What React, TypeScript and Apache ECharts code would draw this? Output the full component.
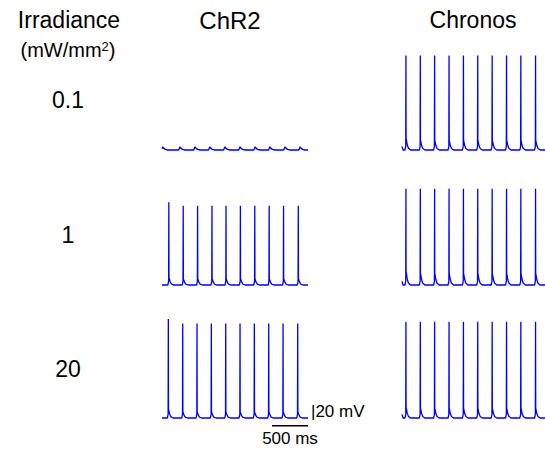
import React, { useEffect, useRef } from "react";
import * as echarts from "echarts";

// ---- labels ----
const irradianceLabels = ["0.1", "1", "20"];
const opsinNames = ["ChR2", "Chronos"];
const headerLine1 = "Irradiance";
const headerLine2 = "(mW/mm{s|2})";
const voltageBarLabel = "|20 mV";
const timeBarLabel = "500 ms";

// ---- time / voltage ranges ----
const traceEndMs = 2030;
const restMv = -65;
const yMinMv = -75;
const yMaxMv = 45;
const timeBarMs = [1530, 2030];
const timeBarMv = -73.6;

// ---- ChR2, 0.1 mW/mm2: subthreshold bumps (ms) and height (mV) ----
const chr2Bumps01 = [10, 250, 460, 665, 875, 1085, 1295, 1500, 1710, 1920];
const chr2BumpMv01 = 3.5;

// ---- spike times (ms) and peak voltages (mV) ----
const chr2Spikes1 = [95, 295, 495, 695, 890, 1090, 1290, 1490, 1690, 1895];
const chr2Peaks1 = [27, 23, 23, 23, 23, 23, 23, 23, 23, 23];
const chr2Adp1 = [8, 7, 7, 7, 7, 7, 7, 7, 7, 7];

const chr2Spikes20 = [88, 288, 487, 686, 886, 1085, 1284, 1484, 1683, 1887];
const chr2Peaks20 = [45, 40, 40, 40, 40, 40, 40, 40, 40, 40];
const chr2Adp20 = [10, 7, 7, 7, 7, 7, 7, 7, 7, 7];

const chronosSpikes01 = [56, 260, 463, 668, 872, 1075, 1280, 1484, 1687, 1896];
const chronosPeaks01 = [40, 40, 40, 40, 40, 40, 40, 40, 40, 40];
const chronosAdp01 = [13, 11, 11, 11, 11, 11, 11, 11, 11, 11];

const chronosSpikes1 = [56, 260, 463, 668, 872, 1075, 1280, 1484, 1687, 1896];
const chronosPeaks1 = [42, 42, 42, 42, 42, 42, 42, 42, 42, 42];
const chronosAdp1 = [15, 13, 13, 13, 13, 13, 13, 13, 13, 13];

const chronosSpikes20 = [56, 260, 463, 668, 872, 1075, 1280, 1484, 1687, 1896];
const chronosPeaks20 = [42, 42, 42, 42, 42, 42, 42, 42, 42, 42];
const chronosAdp20 = [12, 11, 11, 11, 11, 11, 11, 11, 11, 11];

// trace onset level for Chronos (mV above rest at t=0)
const chronosOnsetMv = 4;

// spike waveform template: offsets (ms) and depolarisation above rest (mV);
// "P" marks the peak, "A" the after-depolarisation
const spikeShapeMs = [-14, -3, 0, 2, 7, 18, 35, 65];
const spikeShapeMv: (number | string)[] = [0, 4, "P", "A", 0.85, 0.45, 0.15, 0];
// bump waveform template (ChR2 at 0.1)
const bumpShapeMs = [-18, 0, 12, 35, 70];
const bumpShapeMv = [0, 1, 0.6, 0.2, 0];

function buildSpikeTrace(times: number[], peaks: number[], adps: number[], onsetMv: number) {
  const pts: number[][] = [[0, restMv + onsetMv]];
  if (onsetMv !== 0) pts.push([15, restMv]);
  times.forEach((t, i) => {
    spikeShapeMs.forEach((dt, k) => {
      const s = spikeShapeMv[k];
      let v: number;
      if (s === "P") v = peaks[i];
      else if (s === "A") v = restMv + adps[i];
      else if (k > 3) v = restMv + adps[i] * (s as number);
      else v = restMv + (s as number);
      const tt = t + dt;
      if (tt >= 0) pts.push([tt, v]);
    });
  });
  pts.push([traceEndMs, restMv]);
  return pts;
}

function buildBumpTrace(times: number[], h: number) {
  const pts: number[][] = [[0, restMv + 1.5]];
  times.forEach((t) => {
    bumpShapeMs.forEach((dt, k) => {
      const tt = t + dt;
      if (tt >= 0) pts.push([tt, restMv + h * bumpShapeMv[k]]);
    });
  });
  pts.push([traceEndMs, restMv]);
  return pts;
}

const panelData = [
  [buildBumpTrace(chr2Bumps01, chr2BumpMv01), buildSpikeTrace(chronosSpikes01, chronosPeaks01, chronosAdp01, chronosOnsetMv)],
  [buildSpikeTrace(chr2Spikes1, chr2Peaks1, chr2Adp1, 0), buildSpikeTrace(chronosSpikes1, chronosPeaks1, chronosAdp1, chronosOnsetMv)],
  [buildSpikeTrace(chr2Spikes20, chr2Peaks20, chr2Adp20, 0), buildSpikeTrace(chronosSpikes20, chronosPeaks20, chronosAdp20, chronosOnsetMv)],
];

const FONT = "'Liberation Sans', Arial, sans-serif";

export default function App() {
  const ref = useRef<HTMLDivElement>(null);
  useEffect(() => {
    if (!ref.current) return;
    const chart = echarts.init(ref.current, undefined, { renderer: "svg" });
    const rowTops = [51, 186, 319];
    const colLefts = [162, 402];
    const grids: any[] = [];
    const xAxes: any[] = [];
    const yAxes: any[] = [];
    const series: any[] = [];
    rowTops.forEach((top, r) => {
      colLefts.forEach((left, c) => {
        const idx = grids.length;
        grids.push({ left, top, width: 146, height: 108 });
        xAxes.push({ type: "value", gridIndex: idx, min: 0, max: traceEndMs, show: false });
        yAxes.push({ type: "value", gridIndex: idx, min: yMinMv, max: yMaxMv, show: false });
        series.push({
          type: "line",
          xAxisIndex: idx,
          yAxisIndex: idx,
          data: panelData[r][c],
          showSymbol: false,
          symbol: "none",
          silent: true,
          clip: false,
          lineStyle: { color: "#0000ff", width: 1.3 },
        });
      });
    });
    // time scale bar in ChR2 / 20 panel
    series.push({
      type: "line",
      xAxisIndex: 4,
      yAxisIndex: 4,
      data: timeBarMs.map((t) => [t, timeBarMv]),
      showSymbol: false,
      symbol: "none",
      silent: true,
      clip: false,
      lineStyle: { color: "#000000", width: 1.3 },
    });

    const txt = (text: string, x: number, y: number, size: number, extra: any = {}) => ({
      type: "text",
      x,
      y,
      silent: true,
      style: {
        text,
        fill: "#000",
        fontSize: size,
        fontFamily: FONT,
        textAlign: extra.align || "center",
        align: extra.align || "center",
        textVerticalAlign: "middle",
        verticalAlign: "middle",
        ...(extra.rich ? { rich: extra.rich } : {}),
      },
    });

    const rowLabelY = [100, 235, 369];
    const graphic: any[] = [
      txt(headerLine1, 69, 20, 23),
      txt(headerLine2, 68, 50, 20, {
        rich: { s: { fontSize: 13, fontFamily: FONT, fill: "#000", verticalAlign: "top", padding: [0, 0, 6, 0] } },
      }),
      txt(opsinNames[0], 230, 20, 24),
      txt(opsinNames[1], 473, 20, 23),
      ...irradianceLabels.map((l, i) => txt(l, 68, rowLabelY[i], 23)),
      txt(voltageBarLabel, 311, 411, 17, { align: "left" }),
      txt(timeBarLabel, 290, 438, 17),
    ];

    chart.setOption({
      animation: false,
      grid: grids,
      xAxis: xAxes,
      yAxis: yAxes,
      series,
      graphic,
    });
    return () => chart.dispose();
  }, []);
  return (
    <div
      ref={ref}
      style={{ position: "absolute", left: 0, top: 0, width: 545, height: 450, background: "#fff" }}
    />
  );
}
